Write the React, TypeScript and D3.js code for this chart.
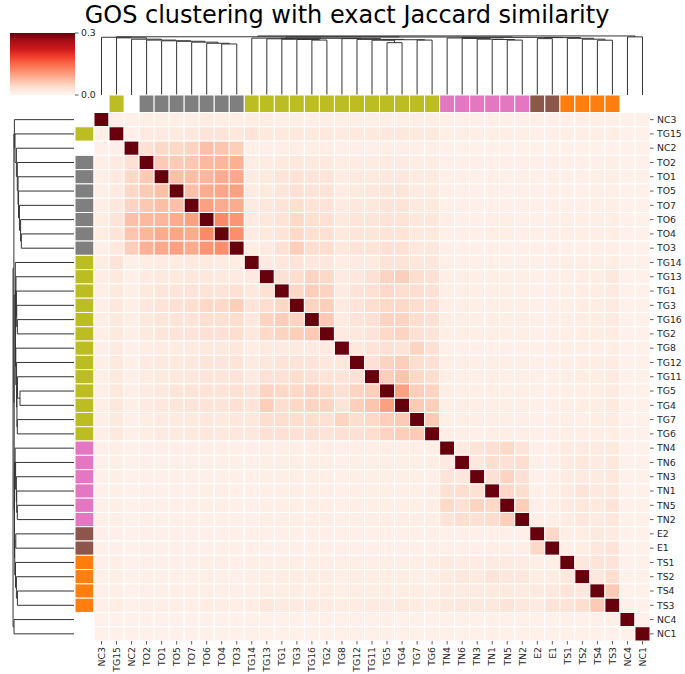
import React from "react";
import * as d3 from "d3";

const labels = ["NC3","TG15","NC2","TO2","TO1","TO5","TO7","TO6","TO4","TO3","TG14","TG13","TG1","TG3","TG16","TG2","TG8","TG12","TG11","TG5","TG4","TG7","TG6","TN4","TN6","TN3","TN1","TN5","TN2","E2","E1","TS1","TS2","TS4","TS3","NC4","NC1"];

const groups: Record<string, string> = { TG: "#bcbd22", TO: "#7f7f7f", TN: "#e377c2", E: "#8c564b", TS: "#ff7f0e" };
const labelGroup = ["","TG","","TO","TO","TO","TO","TO","TO","TO","TG","TG","TG","TG","TG","TG","TG","TG","TG","TG","TG","TG","TG","TN","TN","TN","TN","TN","TN","E","E","TS","TS","TS","TS","",""];

// lower triangle of the similarity matrix, in thousandths
const simLower: number[][] = [
  [1000],
  [10,1000],
  [10,10,1000],
  [12,20,35,1000],
  [12,20,45,60,1000],
  [12,20,45,60,70,1000],
  [12,25,50,62,72,70,1000],
  [15,30,70,77,80,90,100,1000],
  [15,30,65,80,90,95,90,120,1000],
  [12,25,55,85,92,100,90,110,117,1000],
  [15,30,10,15,18,18,20,20,18,15,1000],
  [15,22,10,18,22,22,25,25,22,20,20,1000],
  [12,22,12,22,28,28,30,32,30,35,25,35,1000],
  [12,25,12,25,32,35,38,45,45,55,30,40,45,1000],
  [12,22,12,22,28,30,32,38,38,40,25,50,55,50,1000],
  [12,22,12,22,28,30,30,35,35,40,25,45,50,55,60,1000],
  [12,20,10,15,18,18,20,22,22,25,15,20,20,20,20,20,1000],
  [12,22,10,18,22,22,25,28,28,30,20,25,30,30,30,25,25,1000],
  [12,22,10,18,22,24,25,28,28,30,20,35,35,40,35,30,30,35,1000],
  [12,25,12,20,25,28,30,32,32,35,30,50,45,45,50,45,35,50,55,1000],
  [12,25,12,20,25,28,30,32,32,35,30,55,40,45,50,50,30,55,65,100,1000],
  [12,22,10,15,20,20,22,25,22,25,25,40,40,40,40,35,50,40,45,55,60,1000],
  [12,22,10,15,20,20,22,25,22,25,25,35,35,35,35,30,35,35,40,50,55,60,1000],
  [10,12,8,10,10,10,10,12,10,10,10,12,12,12,12,12,10,12,12,12,12,12,12,1000],
  [10,12,8,10,10,10,10,10,10,10,10,12,12,12,12,12,10,12,12,12,12,12,12,20,1000],
  [10,12,8,10,10,10,10,10,10,10,10,12,12,12,12,12,10,12,12,12,12,12,10,30,25,1000],
  [10,12,8,10,10,10,10,12,12,10,10,12,12,12,12,12,10,12,12,12,12,12,12,35,40,35,1000],
  [10,12,8,10,10,10,10,12,12,10,10,12,12,12,12,12,10,12,12,12,12,12,12,45,35,50,45,1000],
  [10,12,8,10,10,10,10,10,10,10,10,12,12,12,12,12,10,12,12,12,12,12,12,30,40,35,40,55,1000],
  [10,10,8,10,10,10,10,10,10,10,10,10,10,10,10,10,10,10,10,10,10,10,10,10,10,10,10,10,10,1000],
  [10,10,8,10,10,10,10,10,10,10,10,10,10,10,10,10,10,10,10,10,10,10,10,10,10,10,12,12,12,45,1000],
  [10,12,8,10,10,10,10,12,12,10,12,12,12,12,12,12,12,12,12,12,12,12,12,20,18,18,20,20,18,12,12,1000],
  [10,12,8,10,10,10,10,12,12,10,12,15,15,15,15,15,12,15,15,15,15,12,12,20,25,20,30,25,25,15,15,25,1000],
  [10,12,8,10,12,12,12,12,12,12,12,15,15,15,15,15,12,15,15,15,15,15,12,20,20,20,22,22,20,22,25,30,25,1000],
  [10,15,8,12,12,12,12,15,15,12,15,25,20,20,20,18,15,18,20,20,22,18,15,22,25,25,25,30,25,20,30,30,40,60,1000],
  [8,8,8,8,8,8,8,8,8,8,8,8,8,8,8,8,8,8,8,8,8,8,8,8,8,8,8,8,8,8,8,8,8,8,10,1000],
  [8,8,8,8,8,8,8,8,8,8,8,8,8,8,8,8,8,8,8,8,8,8,8,8,8,8,8,8,8,8,8,8,8,8,8,8,1000],
];

// linkage: [left, right, height]; "mK" refers to the K-th merge
const linkage: [string, string, number][] = [
  ["TO4","TO3",0.864],["TO6","m0",0.876],["TO7","m1",0.895],["TO5","m2",0.910],
  ["TO1","m3",0.918],["TO2","m4",0.930],["NC2","m5",0.945],["TG15","m6",0.968],
  ["NC3","m7",0.978],["TG5","TG4",0.886],["TG11","m9",0.928],["TG7","TG6",0.930],
  ["m10","m11",0.936],["TG12","m12",0.942],["TG8","m13",0.955],["TG16","TG2",0.930],
  ["TG3","m15",0.940],["TG1","m16",0.945],["TG13","m17",0.952],["m18","m14",0.960],
  ["TG14","m19",0.963],["TN5","TN2",0.930],["TN1","m21",0.940],["TN3","m22",0.946],
  ["TN6","m23",0.958],["TN4","m24",0.966],["E2","E1",0.955],["TS4","TS3",0.928],
  ["TS2","m27",0.945],["TS1","m28",0.960],["m26","m29",0.972],["m25","m30",0.976],
  ["m20","m31",0.982],["m8","m32",0.986],["NC4","NC1",0.984],["m33","m34",1.0],
];

const cbarTicks = [0.0, 0.3];
const vmax = 0.3;

const n = labels.length;
const X0 = 94, X1 = 650, Y0 = 112.5, Y1 = 641;
const xs = d3.scaleLinear().domain([-0.5, n - 0.5]).range([X0, X1]);
const ys = d3.scaleLinear().domain([-0.5, n - 0.5]).range([Y0, Y1]);
const color = d3.scaleLinear<string>()
  .domain(d3.schemeReds[9].map((_, i) => (i * vmax) / 8))
  .range(d3.schemeReds[9] as string[])
  .clamp(true);

const hTop = d3.scaleLinear().domain([0, 1.05]).range([95, 33]);
const hLeft = d3.scaleLinear().domain([0, 1.05]).range([74, 10]);
const cbarY = d3.scaleLinear().domain([0, vmax]).range([95, 33]);

function value(i: number, j: number) {
  const v = i >= j ? simLower[i][j] : simLower[j][i];
  return v / 1000;
}

function dendroSegs() {
  const pos = new Map<string, number>();
  const hg = new Map<string, number>();
  labels.forEach((l, i) => { pos.set(l, i); hg.set(l, 0); });
  return linkage.map(([a, b, h], k) => {
    const seg = { pa: pos.get(a)!, ha: hg.get(a)!, pb: pos.get(b)!, hb: hg.get(b)!, h };
    pos.set("m" + k, (seg.pa + seg.pb) / 2);
    hg.set("m" + k, h);
    return seg;
  });
}

export default function App() {
  const segs = dendroSegs();
  const font = "DejaVu Sans, sans-serif";
  const cw = xs(1) - xs(0), ch = ys(1) - ys(0);
  const cells: JSX.Element[] = [];
  for (let i = 0; i < n; i++) {
    for (let j = 0; j < n; j++) {
      cells.push(
        <rect key={i + "-" + j} x={xs(j - 0.5)} y={ys(i - 0.5)} width={cw} height={ch}
          fill={color(value(i, j))} stroke="#fff" strokeWidth={1} />
      );
    }
  }
  return (
    <svg width={685} height={674} style={{ position: "absolute", left: 0, top: 0 }} fontFamily={font}>
      <rect width={685} height={674} fill="#fff" />
      <text x={347} y={22.5} textAnchor="middle" fontSize={24} fill="#000">GOS clustering with exact Jaccard similarity</text>
      {/* colorbar */}
      <defs>
        <linearGradient id="cb" x1="0" y1="1" x2="0" y2="0">
          {d3.schemeReds[9].map((c, i) => <stop key={i} offset={i / 8} stopColor={c} />)}
        </linearGradient>
      </defs>
      <rect x={10} y={33} width={65} height={62} fill="url(#cb)" />
      {cbarTicks.map((t) => (
        <g key={t}>
          <line x1={75} x2={78.5} y1={cbarY(t)} y2={cbarY(t)} stroke="#333" strokeWidth={0.8} />
          <text x={81} y={cbarY(t)} dy="0.35em" fontSize={9.3} fill="#262626">{t.toFixed(1)}</text>
        </g>
      ))}
      {/* dendrograms */}
      <g fill="none" stroke="#333" strokeWidth={1}>
        {segs.map((s, k) => (
          <path key={"t" + k} d={`M${xs(s.pa)},${hTop(s.ha)}V${hTop(s.h)}H${xs(s.pb)}V${hTop(s.hb)}`} />
        ))}
        {segs.map((s, k) => (
          <path key={"l" + k} d={`M${hLeft(s.ha)},${ys(s.pa)}H${hLeft(s.h)}V${ys(s.pb)}H${hLeft(s.hb)}`} />
        ))}
      </g>
      {/* group colors */}
      {labels.map((l, i) => labelGroup[i] ? (
        <g key={"c" + l}>
          <rect x={xs(i - 0.5)} y={95} width={cw} height={Y0 - 95} fill={groups[labelGroup[i]]} stroke="#fff" strokeWidth={1} />
          <rect x={75} y={ys(i - 0.5)} width={X0 - 75} height={ch} fill={groups[labelGroup[i]]} stroke="#fff" strokeWidth={1} />
        </g>
      ) : null)}
      {cells}
      {/* axis labels */}
      {labels.map((l, i) => (
        <g key={"x" + l}>
          <line x1={xs(i)} x2={xs(i)} y1={Y1} y2={Y1 + 3.5} stroke="#333" strokeWidth={0.8} />
          <text transform={`translate(${xs(i)},${Y1 + 6}) rotate(-90)`} textAnchor="end" dy="0.35em" fontSize={9.3} fill="#262626">{l}</text>
          <line x1={X1} x2={X1 + 3.5} y1={ys(i)} y2={ys(i)} stroke="#333" strokeWidth={0.8} />
          <text x={X1 + 7} y={ys(i)} dy="0.35em" fontSize={9.3} fill="#262626">{l}</text>
        </g>
      ))}
    </svg>
  );
}
